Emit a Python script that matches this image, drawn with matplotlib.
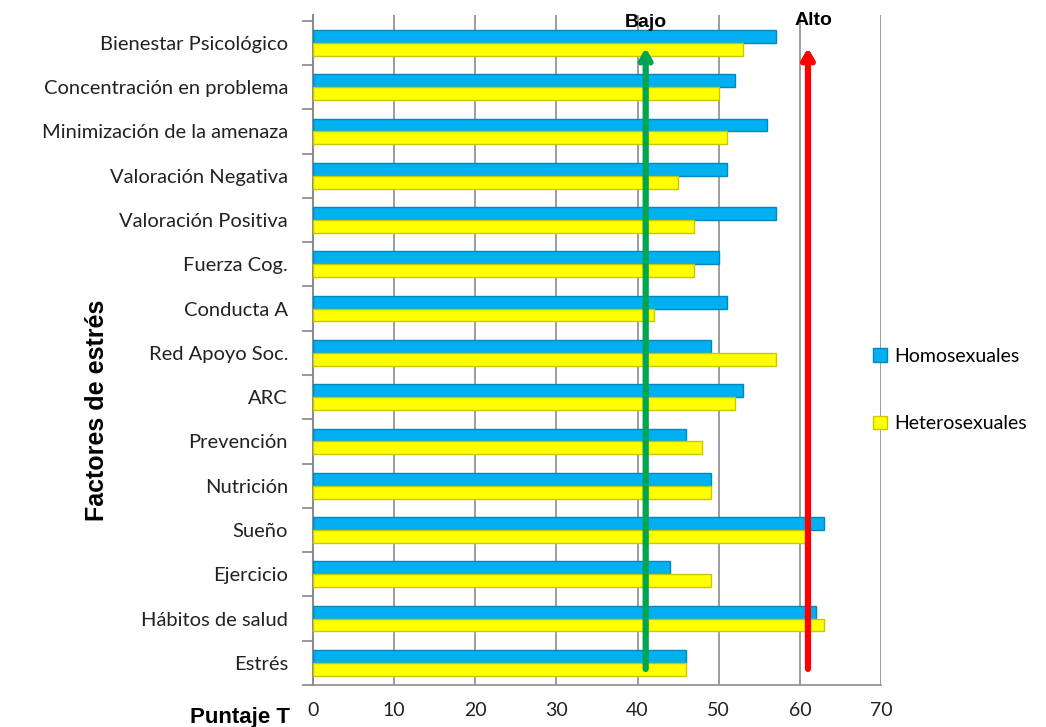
import matplotlib
matplotlib.use("Agg")
import matplotlib.pyplot as plt
import numpy as np

categories = ["Bienestar Psicológico", "Concentración en problema", "Minimización de la amenaza",
              "Valoración Negativa", "Valoración Positiva", "Fuerza Cog.", "Conducta A",
              "Red Apoyo Soc.", "ARC", "Prevención", "Nutrición", "Sueño", "Ejercicio",
              "Hábitos de salud", "Estrés"]
homosexuales = [57, 52, 56, 51, 57, 50, 51, 49, 53, 46, 49, 63, 44, 62, 46]
heterosexuales = [53, 50, 51, 45, 47, 47, 42, 57, 52, 48, 49, 61, 49, 63, 46]
xticks = [0, 10, 20, 30, 40, 50, 60, 70]
bajo_x = 41
alto_x = 61

plt.rcParams['font.family'] = ['Lato', 'DejaVu Sans']

fig = plt.figure(figsize=(10.46, 7.27), dpi=100)
ax = fig.add_axes([313/1046, 1-685/727, (881-313)/1046, (685-15)/727])

y = np.arange(len(categories))
h = 0.29
blue = "#00B0F0"
yellow = "#FFFF00"
ax.barh(y - h/2, homosexuales, height=h, color=blue, edgecolor="#0088C0", linewidth=1.0,
        label="Homosexuales", zorder=3)
ax.barh(y + h/2, heterosexuales, height=h, color=yellow, edgecolor="#C8C800", linewidth=1.0,
        label="Heterosexuales", zorder=3)

ax.set_xlim(0, 70)
ax.set_ylim(len(categories) - 0.55, -0.63)
ax.set_xticks(xticks)
ax.set_xticklabels([str(t) for t in xticks], fontsize=14, color="#222222")
ax.set_yticks(y)
ax.set_yticklabels(categories, fontsize=14.5, color="#222222")
ax.set_yticks(np.arange(len(categories) + 1) - 0.5, minor=True)
ax.tick_params(axis='y', which='major', length=0, pad=18)
ax.tick_params(axis='y', which='minor', length=8, color="#888888", width=1.2)
ax.tick_params(axis='x', length=0, pad=12)
ax.grid(axis='x', color="#8c8c8c", linewidth=1.2, zorder=0)
for s in ["top", "right"]:
    ax.spines[s].set_visible(False)
ax.spines["left"].set_color("#8c8c8c")
ax.spines["left"].set_linewidth(1.5)
ax.spines["bottom"].set_color("#8c8c8c")
ax.spines["bottom"].set_linewidth(1.2)

ybot = len(categories) - 1 + 0.2
ytop = 0.05
ax.annotate("", xy=(bajo_x, ytop), xytext=(bajo_x, ybot),
            arrowprops=dict(arrowstyle="->,head_length=0.6,head_width=0.35", color="#00A550", lw=4.5),
            zorder=5)
ax.annotate("", xy=(alto_x, ytop), xytext=(alto_x, ybot),
            arrowprops=dict(arrowstyle="->,head_length=0.6,head_width=0.35", color="#FF0000", lw=4.5),
            zorder=5)
ax.text(bajo_x, -0.45, "Bajo", ha="center", va="center", fontsize=14, fontweight="bold",
        family="Liberation Sans", zorder=6)
ax.text(alto_x + 0.7, -0.5, "Alto", ha="center", va="center", fontsize=14, fontweight="bold",
        family="Liberation Sans", zorder=6)

ax.set_ylabel("Factores de estrés", fontsize=18, fontweight="bold", family="Liberation Sans")
ax.yaxis.set_label_coords(-0.36, 0.41)
fig.text(290/1046, 1-717/727, "Puntaje T", ha="right", va="center", fontsize=16,
         fontweight="bold", family="Liberation Sans")

leg = ax.legend(loc="center left", bbox_to_anchor=(0.955, 0.44), frameon=False, fontsize=14,
                handlelength=0.7, handleheight=0.7, labelspacing=2.6, handletextpad=0.4)

fig.savefig("out.png", dpi=100)
